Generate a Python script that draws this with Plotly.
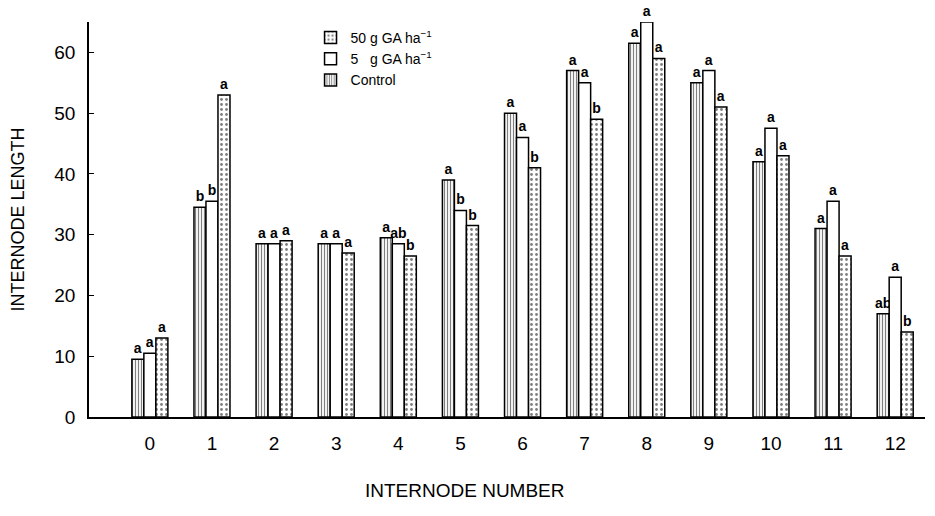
import plotly.graph_objects as go

internodes = list(range(13))
tick_labels = [str(i) for i in internodes]

control = [9.5, 34.5, 28.5, 28.5, 29.5, 39, 50, 57, 61.5, 55, 42, 31, 17]
ga5 = [10.5, 35.5, 28.5, 28.5, 28.5, 34, 46, 55, 65, 57, 47.5, 35.5, 23]
ga50 = [13, 53, 29, 27, 26.5, 31.5, 41, 49, 59, 51, 43, 26.5, 14]

lab_control = ["a", "b", "a", "a", "a", "a", "a", "a", "a", "a", "a", "a", "ab"]
lab_ga5 = ["a", "b", "a", "a", "ab", "b", "a", "a", "a", "a", "a", "a", "a"]
lab_ga50 = ["a", "a", "a", "a", "b", "b", "b", "b", "a", "a", "a", "a", "b"]

FONT = "Liberation Sans, Arial, sans-serif"

fig = go.Figure()
common = dict(textposition="outside", cliponaxis=False, constraintext="none",
              textfont=dict(family=FONT, size=14, color="black", weight="bold"))
fig.add_trace(go.Bar(
    x=internodes, y=control, name="Control", text=lab_control,
    marker=dict(color="white", line=dict(color="black", width=1.5),
                pattern=dict(shape="|", size=3, solidity=0.4, fgcolor="black", bgcolor="white")),
    **common))
fig.add_trace(go.Bar(
    x=internodes, y=ga5, name="5&nbsp;&nbsp;&nbsp;g GA ha<sup>−1</sup>", text=lab_ga5,
    marker=dict(color="white", line=dict(color="black", width=1.5)),
    **common))
fig.add_trace(go.Bar(
    x=internodes, y=ga50, name="50 g GA ha<sup>−1</sup>", text=lab_ga50,
    marker=dict(color="white", line=dict(color="black", width=1.5),
                pattern=dict(shape=".", size=5, solidity=0.25, fgcolor="black", bgcolor="white")),
    **common))

fig.update_layout(
    width=927, height=508,
    margin=dict(l=81, r=10, t=14, b=99),
    paper_bgcolor="white", plot_bgcolor="white",
    barmode="group", bargap=0.42, bargroupgap=0,
    font=dict(family=FONT, color="black"),
    showlegend=True,
    legend=dict(x=0.265, y=1.0, xanchor="left", yanchor="top",
                traceorder="reversed", bgcolor="rgba(0,0,0,0)",
                font=dict(size=14, family=FONT), itemwidth=30, tracegroupgap=0),
    xaxis=dict(range=[-0.98, 12.48], tickvals=internodes, ticktext=tick_labels,
               showline=True, linecolor="black", linewidth=1.5, ticks="",
               showgrid=False, zeroline=False, ticklabelstandoff=8,
               tickfont=dict(size=19, family=FONT),
               automargin=False),
    yaxis=dict(range=[0, 65], tickvals=[0, 10, 20, 30, 40, 50, 60],
               showline=True, linecolor="black", linewidth=1.5,
               ticks="inside", ticklen=5, tickcolor="black",
               showgrid=False, zeroline=False, ticklabelstandoff=8,
               tickfont=dict(size=19, family=FONT),
               title=dict(text="INTERNODE LENGTH", font=dict(size=18, family=FONT), standoff=28),
               automargin=False),
    annotations=[dict(text="INTERNODE NUMBER", xref="paper", yref="paper",
                      x=0.45, y=-0.185, xanchor="center", yanchor="middle",
                      showarrow=False, font=dict(size=19, family=FONT))],
)

fig.write_html("out.html")
